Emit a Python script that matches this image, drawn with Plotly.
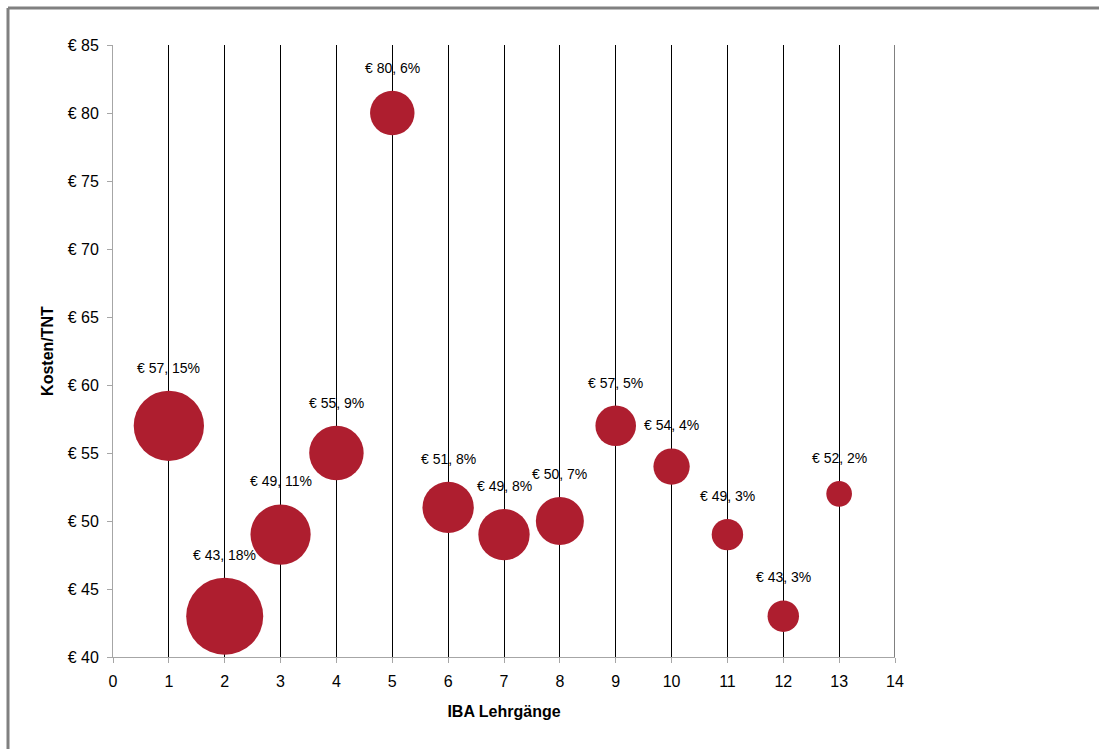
import math
import plotly.graph_objects as go

# IBA course number, cost per participant (EUR) and share of participants (%)
lehrgang = list(range(1, 14))
kosten = [57, 43, 49, 55, 80, 51, 49, 50, 57, 54, 49, 43, 52]
anteil = [15, 18, 11, 9, 6, 8, 8, 7, 5, 4, 3, 3, 2]

x_ticks = list(range(0, 15))
y_ticks = list(range(40, 90, 5))
y_ticktext = [f"€ {v}" for v in y_ticks]

BUBBLE = "#AE1E2F"
AXIS_GREY = "#A6A6A6"
FONT = "Liberation Sans, Arial, sans-serif"
SIZEREF = 0.00607  # area-mode scaling of the bubbles
LABEL_GAP = 23     # px between bubble top and label centre

W, H = 1099, 749
ML, MR, MT, MB = 113, 204, 45, 92

fig = go.Figure(
    go.Scatter(
        x=lehrgang,
        y=kosten,
        mode="markers",
        marker=dict(size=anteil, sizemode="area", sizeref=SIZEREF,
                    color=BUBBLE, line=dict(width=0), opacity=1),
        hoverinfo="skip",
        showlegend=False,
    )
)

# data labels "€ cost, share%" placed just above each bubble
for xv, yv, pv in zip(lehrgang, kosten, anteil):
    r = math.sqrt(pv / (2 * SIZEREF))
    fig.add_annotation(
        x=xv, y=yv, xref="x", yref="y",
        text=f"€ {yv}, {pv}%",
        showarrow=False,
        yshift=r + LABEL_GAP,
        font=dict(family=FONT, size=14, color="#000000"),
    )

# closing vertical grid line at the right end of the x range
fig.add_shape(type="line", xref="x", yref="paper", x0=x_ticks[-1], x1=x_ticks[-1],
              y0=0, y1=1, line=dict(color="#000000", width=1), layer="below")

# outer chart frame (left and top edges)
pw, ph = W - ML - MR, H - MT - MB
fx = (8 - ML) / pw
fy = 1 + (MT - 8) / ph
fig.add_shape(type="line", xref="paper", yref="paper", x0=fx, x1=fx, y0=fy, y1=-0.3,
              line=dict(color="#808080", width=3))
fig.add_shape(type="line", xref="paper", yref="paper", x0=fx, x1=1.4, y0=fy, y1=fy,
              line=dict(color="#808080", width=3))

fig.update_layout(
    width=W, height=H,
    margin=dict(l=ML, r=MR, t=MT, b=MB, pad=0),
    paper_bgcolor="white",
    plot_bgcolor="white",
    font=dict(family=FONT, color="#000000"),
    xaxis=dict(
        range=[0, 14],
        tickvals=x_ticks,
        showgrid=True, gridcolor="#000000", gridwidth=1,
        zeroline=False,
        showline=True, linecolor=AXIS_GREY, linewidth=1,
        ticks="outside", ticklen=5, tickcolor=AXIS_GREY,
        ticklabelstandoff=5,
        tickfont=dict(size=16),
        title=dict(text="<b>IBA Lehrgänge</b>", font=dict(size=16), standoff=16),
    ),
    yaxis=dict(
        range=[40, 85],
        tickvals=y_ticks,
        ticktext=y_ticktext,
        showgrid=False,
        zeroline=False,
        showline=True, linecolor=AXIS_GREY, linewidth=1,
        ticks="outside", ticklen=5, tickcolor=AXIS_GREY,
        ticklabelstandoff=5,
        tickfont=dict(size=16),
        title=dict(text="<b>Kosten/TNT</b>", font=dict(size=16), standoff=10),
    ),
)

fig.write_html("out.html")
